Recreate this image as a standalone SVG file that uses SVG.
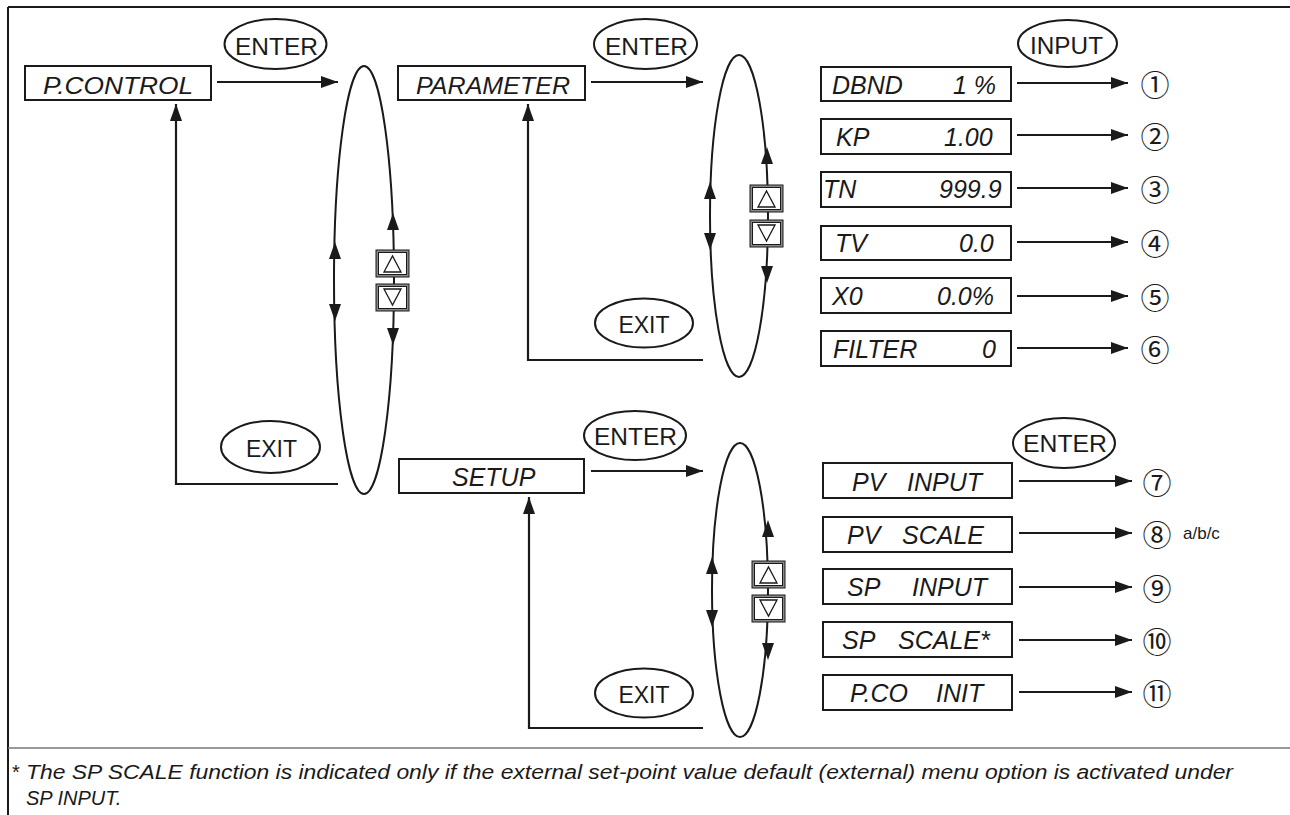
<svg xmlns="http://www.w3.org/2000/svg" xmlns:xlink="http://www.w3.org/1999/xlink" width="1290" height="815" viewBox="0 0 1290 815">
<defs>
<style>
.box{fill:#fff;stroke:#1a1a1a;stroke-width:2}
.lbl{font-family:"Liberation Sans",Arial,sans-serif;font-style:italic;fill:#1a1a1a}
.key{fill:#fff;stroke:#1a1a1a;stroke-width:2}
.kt{font-family:"Liberation Sans",Arial,sans-serif;font-size:23px;fill:#1a1a1a;text-anchor:middle}
.loop{fill:none;stroke:#1a1a1a;stroke-width:2}
.conn{fill:none;stroke:#1a1a1a;stroke-width:2.2;marker-end:url(#ah)}
.circ{font-family:"Noto Sans CJK JP","DejaVu Sans",sans-serif;font-size:29px;fill:#1a1a1a;text-anchor:middle}
.head{fill:#1a1a1a}
.kbo{fill:#8a8a8a;stroke:#1a1a1a;stroke-width:1}
.kbi{fill:#fff;stroke:#1a1a1a;stroke-width:1}
.tri{fill:none;stroke:#1a1a1a;stroke-width:1.3}
.foot{font-family:"Liberation Sans",Arial,sans-serif;font-size:20px;font-style:italic;fill:#1a1a1a}
</style>
<marker id="ah" viewBox="0 0 17 12" refX="17" refY="6" markerUnits="userSpaceOnUse" markerWidth="17" markerHeight="12" orient="auto">
<path d="M0,0 L17,6 L0,12 Z" fill="#1a1a1a"/>
</marker>
<path id="up" class="head" d="M0,0 L6,17 L-6,17 Z"/>
<path id="dn" class="head" d="M0,0 L6,-17 L-6,-17 Z"/>
<g id="kup">
<rect class="kbo" x="0" y="0" width="33" height="27"/>
<rect class="kbi" x="2.5" y="2.5" width="28" height="22"/>
<path class="tri" d="M8,22 L25,22 L16.5,6 Z"/>
</g>
<g id="kdn">
<rect class="kbo" x="0" y="0" width="33" height="27"/>
<rect class="kbi" x="2.5" y="2.5" width="28" height="22"/>
<path class="tri" d="M8,5 L25,5 L16.5,21 Z"/>
</g>
</defs>

<rect x="0" y="0" width="1290" height="815" fill="#fff"/>

<!-- frame -->
<g id="frame">
<line x1="8" y1="7" x2="1290" y2="7" stroke="#1a1a1a" stroke-width="2"/>
<line x1="8" y1="7" x2="8" y2="815" stroke="#1a1a1a" stroke-width="2"/>
<line x1="8" y1="748" x2="1290" y2="748" stroke="#777" stroke-width="1.5"/>
</g>

<!-- connectors -->
<g id="connectors">
<line class="conn" x1="217" y1="82" x2="338" y2="82"/>
<line class="conn" x1="591" y1="82" x2="703" y2="82"/>
<line class="conn" x1="591" y1="471" x2="703" y2="471"/>
<path class="conn" d="M338,484 H176 V104"/>
<path class="conn" d="M703,360 H528 V104"/>
<path class="conn" d="M703,728 H529 V497"/>
<line class="conn" x1="1017" y1="83" x2="1128" y2="83"/>
<line class="conn" x1="1017" y1="135" x2="1128" y2="135"/>
<line class="conn" x1="1017" y1="188" x2="1128" y2="188"/>
<line class="conn" x1="1017" y1="242" x2="1128" y2="242"/>
<line class="conn" x1="1017" y1="296" x2="1128" y2="296"/>
<line class="conn" x1="1017" y1="348" x2="1128" y2="348"/>
<line class="conn" x1="1019" y1="481" x2="1132" y2="481"/>
<line class="conn" x1="1019" y1="533" x2="1132" y2="533"/>
<line class="conn" x1="1019" y1="587" x2="1132" y2="587"/>
<line class="conn" x1="1019" y1="640" x2="1132" y2="640"/>
<line class="conn" x1="1019" y1="692" x2="1132" y2="692"/>
</g>

<!-- loops -->
<g id="loop1">
<ellipse class="loop" cx="364" cy="280" rx="30" ry="214"/>
<use xlink:href="#up" x="393" y="213"/>
<use xlink:href="#dn" x="393" y="345"/>
<use xlink:href="#up" x="335" y="242"/>
<use xlink:href="#dn" x="335" y="321"/>
<use xlink:href="#kup" x="376" y="250"/>
<use xlink:href="#kdn" x="376" y="284"/>
</g>
<g id="loop2">
<ellipse class="loop" cx="739" cy="216" rx="29" ry="161"/>
<use xlink:href="#up" x="767" y="147"/>
<use xlink:href="#dn" x="767" y="283"/>
<use xlink:href="#up" x="710" y="182"/>
<use xlink:href="#dn" x="710" y="250"/>
<use xlink:href="#kup" x="750" y="185"/>
<use xlink:href="#kdn" x="750" y="220"/>
</g>
<g id="loop3">
<ellipse class="loop" cx="740" cy="590" rx="28" ry="147"/>
<use xlink:href="#up" x="768" y="520"/>
<use xlink:href="#dn" x="768" y="660"/>
<use xlink:href="#up" x="712" y="557"/>
<use xlink:href="#dn" x="712" y="627"/>
<use xlink:href="#kup" x="752" y="561"/>
<use xlink:href="#kdn" x="752" y="595"/>
</g>

<!-- key ellipses -->
<g id="enter1"><ellipse class="key" cx="275.5" cy="44" rx="51" ry="25"/><text class="kt" x="276.5" y="55" textLength="83" lengthAdjust="spacingAndGlyphs">ENTER</text></g>
<g id="enter2"><ellipse class="key" cx="645.5" cy="44" rx="51.5" ry="25"/><text class="kt" x="646.5" y="55" textLength="83" lengthAdjust="spacingAndGlyphs">ENTER</text></g>
<g id="input"><ellipse class="key" cx="1067.5" cy="43.5" rx="49.5" ry="23.5"/><text class="kt" x="1066.5" y="54" textLength="73" lengthAdjust="spacingAndGlyphs">INPUT</text></g>
<g id="enter3"><ellipse class="key" cx="635" cy="435.5" rx="51" ry="24.5"/><text class="kt" x="635.5" y="445" textLength="83" lengthAdjust="spacingAndGlyphs">ENTER</text></g>
<g id="enter4"><ellipse class="key" cx="1064" cy="443" rx="51" ry="25"/><text class="kt" x="1065" y="452" textLength="84" lengthAdjust="spacingAndGlyphs">ENTER</text></g>
<g id="exit1"><ellipse class="key" cx="270.5" cy="447" rx="49.5" ry="26"/><text class="kt" x="271.5" y="457">EXIT</text></g>
<g id="exit2"><ellipse class="key" cx="644" cy="323" rx="49" ry="24.5"/><text class="kt" x="644" y="333">EXIT</text></g>
<g id="exit3"><ellipse class="key" cx="644" cy="693" rx="49" ry="24.5"/><text class="kt" x="644" y="703">EXIT</text></g>

<!-- main menu boxes -->
<g id="pcontrol"><rect class="box" x="25" y="66" width="186" height="34"/><text class="lbl" x="43" y="94" font-size="23" textLength="150" lengthAdjust="spacingAndGlyphs">P.CONTROL</text></g>
<g id="parameter"><rect class="box" x="398" y="66" width="187" height="34"/><text class="lbl" x="416" y="94" font-size="23" textLength="154" lengthAdjust="spacingAndGlyphs">PARAMETER</text></g>
<g id="setup"><rect class="box" x="399" y="459" width="185" height="34"/><text class="lbl" x="452" y="486" font-size="25">SETUP</text></g>

<!-- parameter items -->
<g id="dbnd"><rect class="box" x="821" y="67" width="190" height="34"/><text class="lbl" font-size="25" y="94"><tspan x="832">DBND</tspan> <tspan x="953">1 %</tspan></text></g>
<g id="kp"><rect class="box" x="821" y="119" width="190" height="35"/><text class="lbl" font-size="25" y="146"><tspan x="836">KP</tspan> <tspan x="944">1.00</tspan></text></g>
<g id="tn"><rect class="box" x="821" y="172" width="190" height="35"/><text class="lbl" font-size="25" y="198"><tspan x="823">TN</tspan> <tspan x="939">999.9</tspan></text></g>
<g id="tv"><rect class="box" x="821" y="226" width="190" height="34"/><text class="lbl" font-size="25" y="252"><tspan x="835">TV</tspan> <tspan x="959">0.0</tspan></text></g>
<g id="x0"><rect class="box" x="821" y="278" width="190" height="35"/><text class="lbl" font-size="25" y="305"><tspan x="832">X0</tspan> <tspan x="937">0.0%</tspan></text></g>
<g id="filter"><rect class="box" x="821" y="331" width="190" height="35"/><text class="lbl" font-size="25" y="358"><tspan x="833">FILTER</tspan> <tspan x="982">0</tspan></text></g>

<!-- setup items -->
<g id="pvinput"><rect class="box" x="823" y="463" width="189" height="35"/><text class="lbl" font-size="25" y="491"><tspan x="852">PV</tspan> <tspan x="907">INPUT</tspan></text></g>
<g id="pvscale"><rect class="box" x="823" y="517" width="189" height="35"/><text class="lbl" font-size="25" y="544"><tspan x="847">PV</tspan> <tspan x="902">SCALE</tspan></text></g>
<g id="spinput"><rect class="box" x="823" y="569" width="189" height="35"/><text class="lbl" font-size="25" y="596"><tspan x="847">SP</tspan> <tspan x="912">INPUT</tspan></text></g>
<g id="spscale"><rect class="box" x="823" y="622" width="189" height="35"/><text class="lbl" font-size="25" y="649"><tspan x="842">SP</tspan> <tspan x="898">SCALE*</tspan></text></g>
<g id="pcoinit"><rect class="box" x="823" y="675" width="189" height="35"/><text class="lbl" font-size="25" y="702"><tspan x="850">P.CO</tspan> <tspan x="936">INIT</tspan></text></g>

<!-- circled references -->
<g id="refs">
<text class="circ" x="1155" y="95.5">①</text>
<text class="circ" x="1155" y="147.5">②</text>
<text class="circ" x="1155" y="200.5">③</text>
<text class="circ" x="1155" y="254.5">④</text>
<text class="circ" x="1155" y="308.5">⑤</text>
<text class="circ" x="1155" y="360.5">⑥</text>
<text class="circ" x="1157" y="493.5">⑦</text>
<text class="circ" x="1157" y="545.5">⑧</text>
<text class="circ" x="1157" y="599.5">⑨</text>
<text class="circ" x="1157" y="652.5">⑩</text>
<text class="circ" x="1157" y="704.5">⑪</text>
<text x="1183" y="539" font-family="Liberation Sans, Arial, sans-serif" font-size="17" fill="#1a1a1a">a/b/c</text>
</g>

<!-- footnote -->
<g id="footnote">
<text class="foot" y="779"><tspan x="12" font-style="normal">*</tspan> <tspan x="26" textLength="1207" lengthAdjust="spacingAndGlyphs">The SP SCALE function is indicated only if the external set-point value default (external) menu option is activated under</tspan></text>
<text class="foot" x="26" y="805">SP INPUT.</text>
</g>
</svg>
